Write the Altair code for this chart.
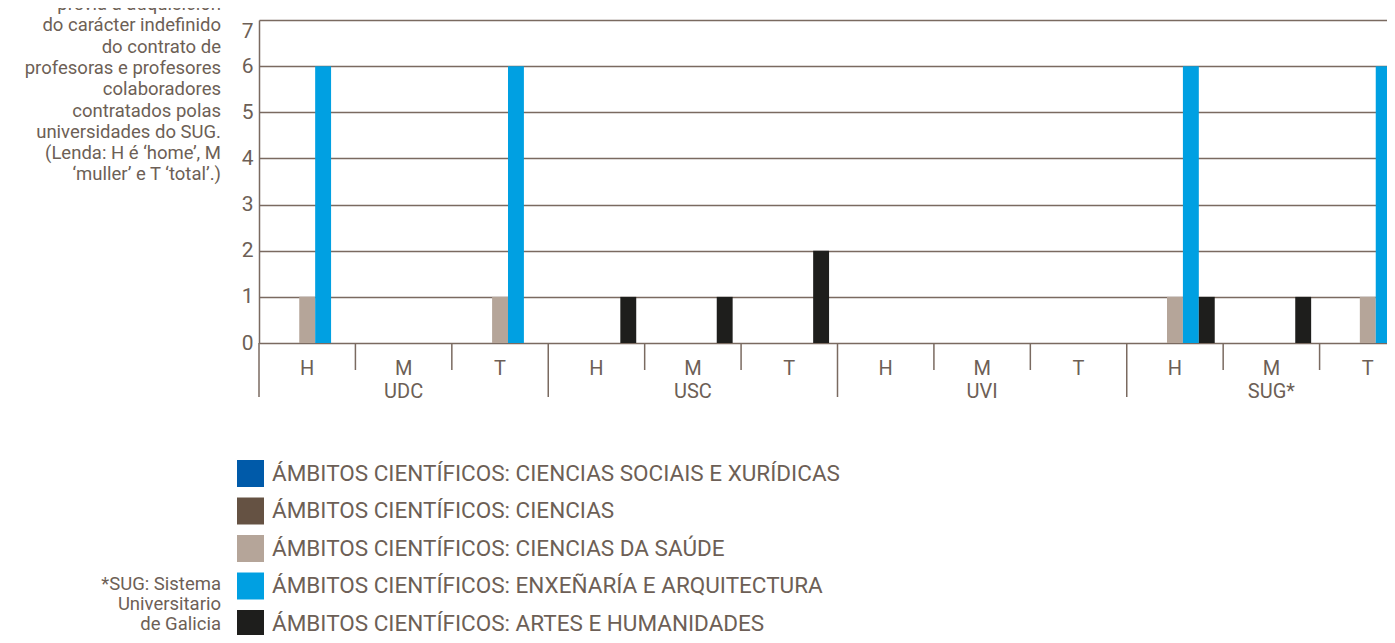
import altair as alt
import pandas as pd

universities = ["UDC", "USC", "UVI", "SUG*"]
sexes = ["H", "M", "T"]
categories = [
    "ÁMBITOS CIENTÍFICOS: CIENCIAS SOCIAIS E XURÍDICAS",
    "ÁMBITOS CIENTÍFICOS: CIENCIAS",
    "ÁMBITOS CIENTÍFICOS: CIENCIAS DA SAÚDE",
    "ÁMBITOS CIENTÍFICOS: ENXEÑARÍA E ARQUITECTURA",
    "ÁMBITOS CIENTÍFICOS: ARTES E HUMANIDADES",
]
colors = ["#005aa9", "#655243", "#b5a599", "#00a0e2", "#1e1e1c"]

# order: UDC H,M,T | USC H,M,T | UVI H,M,T | SUG* H,M,T
csx      = [0, 0, 0, 0, 0, 0, 0, 0, 0, 0, 0, 0]
ciencias = [0, 0, 0, 0, 0, 0, 0, 0, 0, 0, 0, 0]
saude    = [1, 0, 1, 0, 0, 0, 0, 0, 0, 1, 0, 1]
enx      = [6, 0, 6, 0, 0, 0, 0, 0, 0, 6, 0, 6]
artes    = [0, 0, 0, 1, 1, 2, 0, 0, 0, 1, 1, 2]
series = [csx, ciencias, saude, enx, artes]

title_lines = [
    "previa á adquisición",
    "do carácter indefinido",
    "do contrato de",
    "profesoras e profesores",
    "colaboradores",
    "contratados polas",
    "universidades do SUG.",
    "(Lenda: H é ‘home’, M",
    "‘muller’ e T ‘total’.)",
]
note_lines = ["*SUG: Sistema", "Universitario", "de Galicia"]

keys = [f"{u}|{s}" for u in universities for s in sexes]

rows = []
for cat, vals in zip(categories, series):
    for k, v in zip(keys, vals):
        if v > 0:
            rows.append({"key": k, "cat": cat, "value": v})
bars_df = pd.DataFrame(rows)

short_sep = pd.DataFrame({"key": [f"{u}|{s}" for u in universities for s in ["M", "T"]]})
long_sep = pd.DataFrame({"key": [f"{u}|H" for u in universities]})
uni_df = pd.DataFrame({"key": [f"{u}|M" for u in universities], "uni": universities})
title_df = pd.DataFrame({"t": ["\n".join(title_lines)]})
note_df = pd.DataFrame({"t": ["\n".join(note_lines)]})

TXT = "#6d5f56"
LINE = "#7a6a60"
FONT = "Roboto"
H = 323

x_scale = alt.Scale(domain=keys, paddingInner=0, paddingOuter=0, range=[0, 1157])
x_axis = alt.Axis(title=None, ticks=False, domain=False, labelAngle=0,
                  labelExpr="split(datum.value, '|')[1]", labelPadding=15,
                  labelFontSize=20, labelColor=TXT, labelFont=FONT, grid=False,
                  labelOverlap=False)

bars = alt.Chart(bars_df).mark_bar().encode(
    x=alt.X("key:N", scale=x_scale, sort=keys, axis=x_axis),
    xOffset=alt.XOffset("cat:N", scale=alt.Scale(domain=categories, paddingInner=0, paddingOuter=0.53)),
    y=alt.Y("value:Q", scale=alt.Scale(domain=[0, 7]),
            axis=alt.Axis(title=None, values=list(range(8)), grid=True, gridColor=LINE,
                          gridWidth=1.5, domainColor=LINE, domainWidth=1.5, ticks=False,
                          labelPadding=6, labelFontSize=21, labelColor=TXT, labelFont=FONT,
                          labelBaseline={"condition": {"test": "datum.value == 7", "value": "top"},
                                         "value": "middle"})),
    color=alt.Color("cat:N", scale=alt.Scale(domain=categories, range=colors),
                    legend=alt.Legend(title=None, orient="none", legendX=-22, legendY=440,
                                      symbolType="square", symbolSize=729, symbolStrokeWidth=0,
                                      labelFontSize=22.5, labelColor=TXT, labelFont=FONT,
                                      labelOffset=8, rowPadding=10.5, labelLimit=1000,
                                      padding=0, direction="vertical")),
)

short_rules = alt.Chart(short_sep).mark_rule(color=LINE, strokeWidth=1.5).encode(
    x=alt.X("key:N", scale=x_scale, sort=keys, bandPosition=0, axis=x_axis),
    y=alt.value(H), y2=alt.value(H + 27),
)
long_rules = alt.Chart(long_sep).mark_rule(color=LINE, strokeWidth=1.5).encode(
    x=alt.X("key:N", scale=x_scale, sort=keys, bandPosition=0, axis=x_axis),
    y=alt.value(H), y2=alt.value(H + 54),
)
uni_text = alt.Chart(uni_df).mark_text(fontSize=20, color=TXT, font=FONT,
                                       baseline="alphabetic", align="center").encode(
    x=alt.X("key:N", scale=x_scale, sort=keys, axis=x_axis),
    y=alt.value(H + 55),
    text="uni:N",
)
title_text = alt.Chart(title_df).mark_text(fontSize=18.5, color=TXT, font=FONT, align="right",
                                           baseline="alphabetic", lineBreak="\n",
                                           lineHeight=21.3).encode(
    x=alt.value(-38), y=alt.value(-10), text="t:N",
)
note_text = alt.Chart(note_df).mark_text(fontSize=18.5, color=TXT, font=FONT, align="right",
                                         baseline="alphabetic", lineBreak="\n",
                                         lineHeight=20).encode(
    x=alt.value(-38), y=alt.value(570), text="t:N",
)

chart = alt.layer(bars, short_rules, long_rules, uni_text, title_text, note_text).properties(
    width=1128, height=H,
    autosize=alt.AutoSizeParams(type="none"),
    padding={"left": 251, "top": 12, "right": 0, "bottom": 292},
    background="white",
).configure_view(stroke=None)

chart.save("out.html", embed_options={"renderer": "svg", "actions": False})
